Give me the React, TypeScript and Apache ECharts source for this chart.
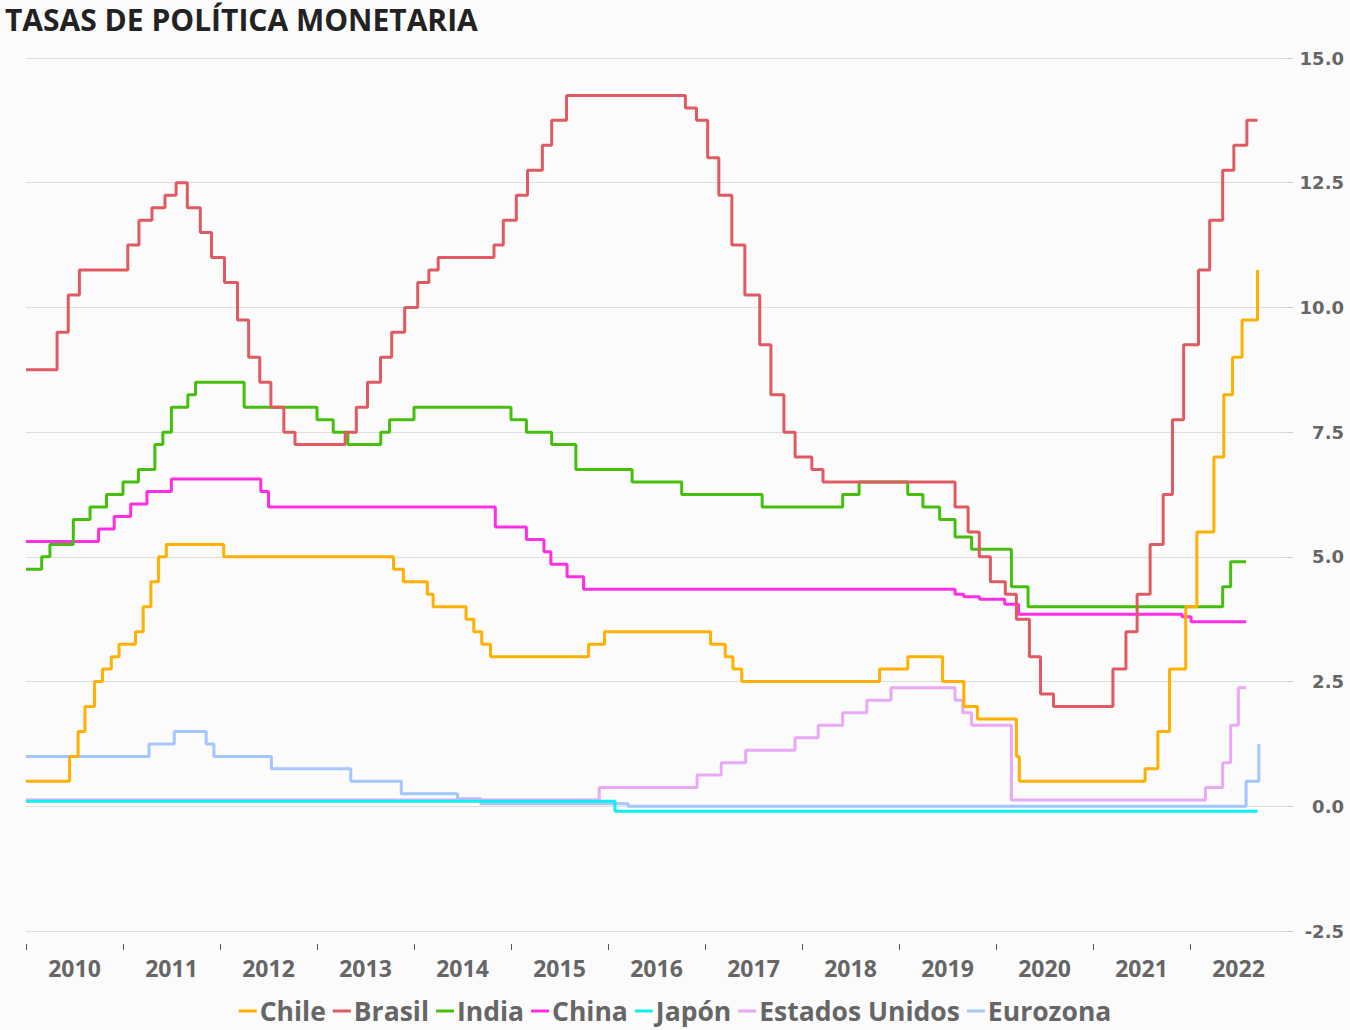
import React, { useEffect, useRef } from "react";
import * as echarts from "echarts";

type Pt = [string, number];

const TITLE = "TASAS DE POLÍTICA MONETARIA";
const YEARS = ["2010", "2011", "2012", "2013", "2014", "2015", "2016", "2017", "2018", "2019", "2020", "2021", "2022"];
const X_END = 2023;
const Y_MIN = -2.5;
const Y_MAX = 15;
const Y_STEP = 2.5;

const SERIES_NAMES = ["Chile", "Brasil", "India", "China", "Japón", "Estados Unidos", "Eurozona"];
const SERIES_COLORS = ["#ffb000", "#e05a62", "#44c00c", "#ff2ee6", "#10eef0", "#e9a9f6", "#a3c6fb"];

const CHILE: Pt[] = [
  ["2010-01-01", 0.5], ["2010-06-14", 1.0], ["2010-07-16", 1.5], ["2010-08-11", 2.0],
  ["2010-09-16", 2.5], ["2010-10-16", 2.75], ["2010-11-18", 3.0], ["2010-12-17", 3.25],
  ["2011-02-17", 3.5], ["2011-03-18", 4.0], ["2011-04-16", 4.5], ["2011-05-15", 5.0],
  ["2011-06-13", 5.25], ["2012-01-15", 5.0], ["2013-10-16", 4.75], ["2013-11-22", 4.5],
  ["2014-02-20", 4.25], ["2014-03-14", 4.0], ["2014-07-16", 3.75], ["2014-08-14", 3.5],
  ["2014-09-13", 3.25], ["2014-10-16", 3.0], ["2015-10-20", 3.25], ["2015-12-19", 3.5],
  ["2017-01-22", 3.25], ["2017-03-18", 3.0], ["2017-04-16", 2.75], ["2017-05-19", 2.5],
  ["2018-10-20", 2.75], ["2019-02-03", 3.0], ["2019-06-14", 2.5], ["2019-09-02", 2.0],
  ["2019-10-23", 1.75], ["2020-03-18", 1.0], ["2020-03-29", 0.5], ["2021-07-16", 0.75],
  ["2021-09-02", 1.5], ["2021-10-16", 2.75], ["2021-12-16", 4.0], ["2022-01-27", 5.5],
  ["2022-04-01", 7.0], ["2022-05-08", 8.25], ["2022-06-10", 9.0], ["2022-07-16", 9.75],
  ["2022-09-12", 10.75],
];

const BRASIL: Pt[] = [
  ["2010-01-01", 8.75], ["2010-04-28", 9.5], ["2010-06-09", 10.25], ["2010-07-21", 10.75],
  ["2011-01-19", 11.25], ["2011-03-02", 11.75], ["2011-04-20", 12.0], ["2011-06-08", 12.25],
  ["2011-07-20", 12.5], ["2011-08-31", 12.0], ["2011-10-19", 11.5], ["2011-11-30", 11.0],
  ["2012-01-18", 10.5], ["2012-03-07", 9.75], ["2012-04-18", 9.0], ["2012-05-30", 8.5],
  ["2012-07-11", 8.0], ["2012-08-29", 7.5], ["2012-10-10", 7.25], ["2013-04-17", 7.5],
  ["2013-05-29", 8.0], ["2013-07-10", 8.5], ["2013-08-28", 9.0], ["2013-10-09", 9.5],
  ["2013-11-27", 10.0], ["2014-01-15", 10.5], ["2014-02-26", 10.75], ["2014-04-02", 11.0],
  ["2014-10-29", 11.25], ["2014-12-03", 11.75], ["2015-01-21", 12.25], ["2015-03-04", 12.75],
  ["2015-04-29", 13.25], ["2015-06-03", 13.75], ["2015-07-29", 14.25], ["2016-10-19", 14.0],
  ["2016-11-30", 13.75], ["2017-01-11", 13.0], ["2017-02-22", 12.25], ["2017-04-12", 11.25],
  ["2017-05-31", 10.25], ["2017-07-26", 9.25], ["2017-09-06", 8.25], ["2017-10-25", 7.5],
  ["2017-12-06", 7.0], ["2018-02-07", 6.75], ["2018-03-21", 6.5], ["2019-07-31", 6.0],
  ["2019-09-18", 5.5], ["2019-10-30", 5.0], ["2019-12-11", 4.5], ["2020-02-05", 4.25],
  ["2020-03-18", 3.75], ["2020-05-06", 3.0], ["2020-06-17", 2.25], ["2020-08-05", 2.0],
  ["2021-03-17", 2.75], ["2021-05-05", 3.5], ["2021-06-16", 4.25], ["2021-08-04", 5.25],
  ["2021-09-22", 6.25], ["2021-10-27", 7.75], ["2021-12-08", 9.25], ["2022-02-02", 10.75],
  ["2022-03-16", 11.75], ["2022-05-04", 12.75], ["2022-06-15", 13.25], ["2022-08-03", 13.75],
  ["2022-09-12", 13.75],
];

const INDIA: Pt[] = [
  ["2010-01-01", 4.75], ["2010-03-01", 5.0], ["2010-04-01", 5.25], ["2010-06-28", 5.75],
  ["2010-08-30", 6.0], ["2010-10-31", 6.25], ["2011-01-01", 6.5], ["2011-02-28", 6.75],
  ["2011-05-01", 7.25], ["2011-05-31", 7.5], ["2011-07-02", 8.0], ["2011-09-02", 8.25],
  ["2011-10-01", 8.5], ["2012-04-01", 8.0], ["2013-01-01", 7.75], ["2013-03-03", 7.5],
  ["2013-04-27", 7.25], ["2013-08-29", 7.5], ["2013-10-01", 7.75], ["2014-01-01", 8.0],
  ["2015-01-01", 7.75], ["2015-02-28", 7.5], ["2015-06-03", 7.25], ["2015-09-02", 6.75],
  ["2016-04-01", 6.5], ["2016-10-05", 6.25], ["2017-08-04", 6.0], ["2018-06-03", 6.25],
  ["2018-08-04", 6.5], ["2019-02-03", 6.25], ["2019-04-01", 6.0], ["2019-06-03", 5.75],
  ["2019-07-31", 5.4], ["2019-10-01", 5.15], ["2020-02-28", 4.4], ["2020-05-01", 4.0],
  ["2022-05-04", 4.4], ["2022-06-03", 4.9], ["2022-07-31", 4.9],
];

const CHINA: Pt[] = [
  ["2010-01-01", 5.31], ["2010-10-01", 5.56], ["2010-11-29", 5.81], ["2011-01-30", 6.06],
  ["2011-04-01", 6.31], ["2011-07-02", 6.56], ["2012-06-03", 6.31], ["2012-07-02", 6.0],
  ["2014-11-03", 5.6], ["2015-02-28", 5.35], ["2015-05-05", 5.1], ["2015-05-31", 4.85],
  ["2015-07-31", 4.6], ["2015-10-01", 4.35], ["2019-07-31", 4.25], ["2019-09-02", 4.2],
  ["2019-10-31", 4.15], ["2020-02-03", 4.05], ["2020-03-26", 3.85], ["2021-12-02", 3.8],
  ["2022-01-05", 3.7], ["2022-07-31", 3.7],
];

const JAPON: Pt[] = [
  ["2010-01-01", 0.1], ["2016-01-27", -0.1], ["2022-09-12", -0.1],
];

const EEUU: Pt[] = [
  ["2010-01-01", 0.125], ["2015-11-29", 0.375], ["2016-12-02", 0.625], ["2017-03-03", 0.875],
  ["2017-06-03", 1.125], ["2017-12-06", 1.375], ["2018-03-03", 1.625], ["2018-06-03", 1.875],
  ["2018-09-02", 2.125], ["2018-12-02", 2.375], ["2019-07-31", 2.125], ["2019-08-29", 1.875],
  ["2019-10-01", 1.625], ["2020-02-28", 0.125], ["2022-02-28", 0.375], ["2022-05-04", 0.875],
  ["2022-06-03", 1.625], ["2022-07-02", 2.375], ["2022-07-31", 2.375],
];

const EUROZONA: Pt[] = [
  ["2010-01-01", 1.0], ["2011-04-09", 1.25], ["2011-07-13", 1.5], ["2011-11-10", 1.25],
  ["2011-12-09", 1.0], ["2012-07-13", 0.75], ["2013-05-08", 0.5], ["2013-11-14", 0.25],
  ["2014-06-14", 0.15], ["2014-09-09", 0.05], ["2016-03-17", 0.0], ["2022-07-31", 0.5],
  ["2022-09-17", 1.25],
];

const SERIES_DATA: Pt[][] = [CHILE, BRASIL, INDIA, CHINA, JAPON, EEUU, EUROZONA];

function toYear(d: string): number {
  const [y, m, dd] = d.split("-").map(Number);
  const start = Date.UTC(y, 0, 1);
  const end = Date.UTC(y + 1, 0, 1);
  return y + (Date.UTC(y, m - 1, dd) - start) / (end - start);
}

const SANS = "'Open Sans', 'Noto Sans', sans-serif";

export default function App() {
  const ref = useRef<HTMLDivElement>(null);

  useEffect(() => {
    if (!ref.current) return;
    const chart = echarts.init(ref.current, null, { renderer: "svg" });
    const option: any = {
      animation: false,
      backgroundColor: "#fbfbfb",
      title: {
        text: TITLE,
        left: 0,
        top: -1,
        textStyle: { fontFamily: SANS, fontSize: 30, fontWeight: "bold", color: "#222" },
      },
      legend: {
        data: SERIES_NAMES,
        left: "center",
        top: 991,
        icon: "rect",
        itemWidth: 18,
        itemHeight: 3,
        itemGap: 7,
        textStyle: {
          fontFamily: SANS,
          fontSize: 26.5,
          lineHeight: 30,
          fontWeight: "bold",
          color: "#666",
          padding: [0, 0, 0, -2],
        },
      },
      grid: { left: 26, right: 63, top: 58, bottom: 99, containLabel: false },
      xAxis: {
        type: "value",
        min: Number(YEARS[0]),
        max: X_END,
        position: "bottom",
        offset: 13,
        axisLine: { show: false, onZero: false },
        splitLine: { show: false },
        axisTick: {
          show: true,
          customValues: YEARS.map(Number),
          length: 6,
          lineStyle: { color: "#555", width: 1 },
        },
        axisLabel: {
          customValues: YEARS.map((y) => Number(y) + 0.5),
          formatter: (v: number) => String(Math.floor(v)),
          fontFamily: SANS,
          fontSize: 23,
          fontWeight: "bold",
          color: "#666",
          margin: 12,
        },
      },
      yAxis: {
        type: "value",
        position: "right",
        min: Y_MIN,
        max: Y_MAX,
        interval: Y_STEP,
        axisLine: { show: false },
        axisTick: { show: true, length: 6, lineStyle: { color: "#ccc" } },
        splitLine: { show: true, lineStyle: { color: "#dedede", width: 1 } },
        axisLabel: {
          formatter: (v: number) => v.toFixed(1),
          align: "right",
          margin: 57,
          fontFamily: "'DejaVu Sans', sans-serif",
          fontSize: 18,
          fontWeight: "bold",
          color: "#666",
        },
      },
      series: SERIES_NAMES.map((name, i) => ({
        name,
        type: "line",
        step: "end",
        symbol: "none",
        showSymbol: false,
        z: 20 - i,
        color: SERIES_COLORS[i],
        lineStyle: { width: 3, color: SERIES_COLORS[i] },
        data: SERIES_DATA[i].map(([d, v]) => [toYear(d), v]),
      })),
    };
    chart.setOption(option);
    return () => chart.dispose();
  }, []);

  return (
    <div
      ref={ref}
      style={{ position: "absolute", left: 0, top: 0, width: 1350, height: 1030 }}
    />
  );
}
